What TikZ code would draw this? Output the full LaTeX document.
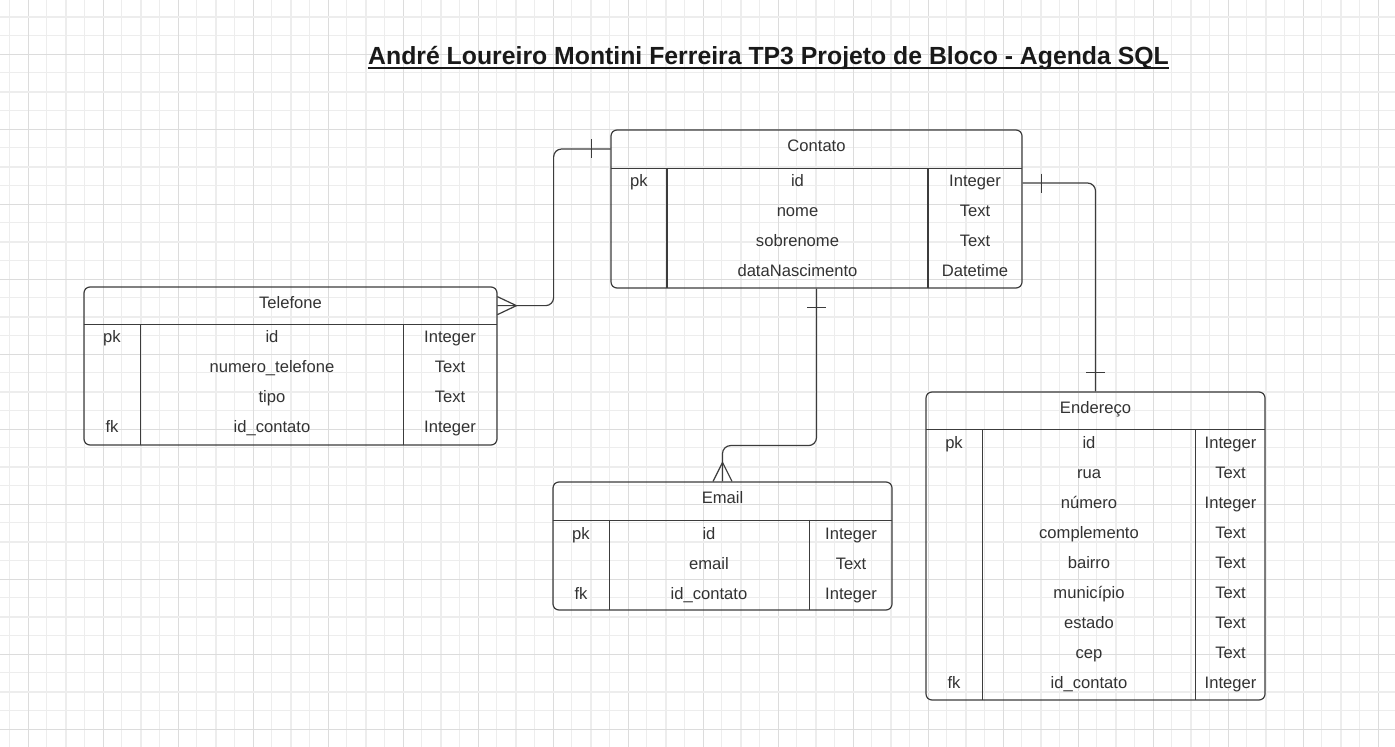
\documentclass[tikz,border=0pt]{standalone}
\usepackage{fontspec}
\setmainfont{Liberation Sans}
\usepackage{tikz}
\usetikzlibrary{positioning,calc,fit}

\definecolor{traco}{HTML}{3C3C3C}
\definecolor{texto}{HTML}{333333}
\definecolor{grademin}{HTML}{EDEDED}
\definecolor{grademaj}{HTML}{DCDCDC}

\tikzset{
  tabela/.style={draw=traco, line width=0.6pt, rounded corners=3pt, inner sep=0pt},
  cabeca/.style={inner sep=0pt},
  celula/.style={anchor=base, inner sep=0pt, font=\fontsize{8.3}{10}\selectfont, text=texto},
  titulo/.style={anchor=base, inner sep=0pt, font=\fontsize{12.4}{15}\selectfont\bfseries, text=black!90},
  linha/.style={draw=traco, line width=0.6pt},
  rel/.style={draw=traco, line width=0.6pt, rounded corners=4pt},
  grade/.style={draw=grademin, line width=0.5pt},
  gradeforte/.style={draw=grademaj, line width=0.5pt},
}

\begin{document}
\begin{tikzpicture}[x=0.5pt, y=-0.5pt]
    \useasboundingbox[fill=white] (0,0) rectangle (1395,747);
    % grid
    \foreach \k in {0,...,74}
        \draw[grade] ({9.3+18.75*\k},0) -- ({9.3+18.75*\k},747);
    \foreach \k in {0,...,40}
        \draw[grade] (0,{-2.05+18.75*\k}) -- (1395,{-2.05+18.75*\k});
    \foreach \k in {0,...,18} {
        \draw[grade, line width=1pt] ({66+75*\k},0) -- ({66+75*\k},747);
        \draw[gradeforte] ({28.3+75*\k},0) -- ({28.3+75*\k},747);
    }
    \foreach \k in {0,...,9} {
        \draw[grade, line width=1pt] (0,{16.7+75*\k}) -- (1395,{16.7+75*\k});
        \draw[gradeforte] (0,{54.2+75*\k}) -- (1395,{54.2+75*\k});
    }

    \node[titulo] (titulo) at (768.5,64.3) {André Loureiro Montini Ferreira TP3 Projeto de Bloco - Agenda SQL};
    \draw[line width=1pt, black!90] ([yshift=-1.7pt]titulo.base west) -- ([yshift=-1.7pt]titulo.base east);

    % Contato
    \node[tabela, fit={(611,130) (1022,288)}] (contato) {};
    \node[cabeca, fit={(611,130) (1022,168)}] (contato-head) {};
    \node[celula] (contato-nome) at (816.5,151.5) {Contato};
    \draw[linha] (contato-head.south west) -- (contato-head.south east);
    \draw[linha] (667,168) -- (667,288);
    \draw[linha] (928,168) -- (928,288);
    \foreach \i/\chave/\campo/\tipo in {0/pk/id/Integer, 1//nome/Text, 2//sobrenome/Text, 3//dataNascimento/Datetime} {
        \node[celula] (contato-chave-\i) at (639,{187+30*\i}) {\chave};
        \node[celula] (contato-campo-\i) at (797.5,{187+30*\i}) {\campo};
        \node[celula] (contato-tipo-\i) at (975,{187+30*\i}) {\tipo};
    }

    % Telefone
    \node[tabela, fit={(84,287) (497,445)}] (telefone) {};
    \node[cabeca, fit={(84,287) (497,324.3)}] (telefone-head) {};
    \node[celula] (telefone-nome) at (290.5,309) {Telefone};
    \draw[linha] (telefone-head.south west) -- (telefone-head.south east);
    \draw[linha] (140.3,324.3) -- (140.3,445);
    \draw[linha] (403.3,324.3) -- (403.3,445);
    \foreach \i/\chave/\campo/\tipo in {0/pk/id/Integer, 1//numero\_telefone/Text, 2//tipo/Text, 3/fk/id\_contato/Integer} {
        \node[celula] (telefone-chave-\i) at (112,{343+30*\i}) {\chave};
        \node[celula] (telefone-campo-\i) at (272,{343+30*\i}) {\campo};
        \node[celula] (telefone-tipo-\i) at (450,{343+30*\i}) {\tipo};
    }

    % Email
    \node[tabela, fit={(553,482) (892,610)}] (email) {};
    \node[cabeca, fit={(553,482) (892,520)}] (email-head) {};
    \node[celula] (email-nome) at (722.5,504) {Email};
    \draw[linha] (email-head.south west) -- (email-head.south east);
    \draw[linha] (609.3,520) -- (609.3,610);
    \draw[linha] (809.3,520) -- (809.3,610);
    \foreach \i/\chave/\campo/\tipo in {0/pk/id/Integer, 1//email/Text, 2/fk/id\_contato/Integer} {
        \node[celula] (email-chave-\i) at (581,{539+30*\i}) {\chave};
        \node[celula] (email-campo-\i) at (709,{539+30*\i}) {\campo};
        \node[celula] (email-tipo-\i) at (851,{539+30*\i}) {\tipo};
    }

    % Endereço
    \node[tabela, fit={(926,392) (1265,700)}] (endereco) {};
    \node[cabeca, fit={(926,392) (1265,429.3)}] (endereco-head) {};
    \node[celula] (endereco-nome) at (1095.5,414) {Endereço};
    \draw[linha] (endereco-head.south west) -- (endereco-head.south east);
    \draw[linha] (982.3,429.3) -- (982.3,700);
    \draw[linha] (1195.7,429.3) -- (1195.7,700);
    \foreach \i/\chave/\campo/\tipo in {0/pk/id/Integer, 1//rua/Text, 2//número/Integer, 3//complemento/Text,
                                        4//bairro/Text, 5//município/Text, 6//estado/Text, 7//cep/Text,
                                        8/fk/id\_contato/Integer} {
        \node[celula] (endereco-chave-\i) at (954,{448.3+30*\i}) {\chave};
        \node[celula] (endereco-campo-\i) at (1089,{448.3+30*\i}) {\campo};
        \node[celula] (endereco-tipo-\i) at (1230.5,{448.3+30*\i}) {\tipo};
    }

    % relacionamentos
    \draw[rel] (contato-head.west) -- ++(-57,0) |- (telefone-head.east);
    \draw[linha] ([xshift=-9.5pt]contato-head.west) ++(0,-9.5) -- ++(0,19);
    \draw[linha] ([yshift=4.5pt]telefone-head.east) -- ++(19,9) -- ++(-19,9);

    \coordinate (contato-end) at (contato.east |- contato-tipo-0);
    \draw[rel] (contato-end) -| (endereco.north);
    \draw[linha] ($(contato-end)+(19,-9.5)$) -- ++(0,19);
    \draw[linha] ($(endereco.north)+(-9.5,-19)$) -- ++(19,0);

    \draw[rel] (contato.south) -- ++(0,157) -| (email.north);
    \draw[linha] ($(contato.south)+(-9.5,19)$) -- ++(19,0);
    \draw[linha] ($(email.north)+(-9.5,0)$) -- ++(9.5,-19) -- ++(9.5,19);
\end{tikzpicture}
\end{document}
